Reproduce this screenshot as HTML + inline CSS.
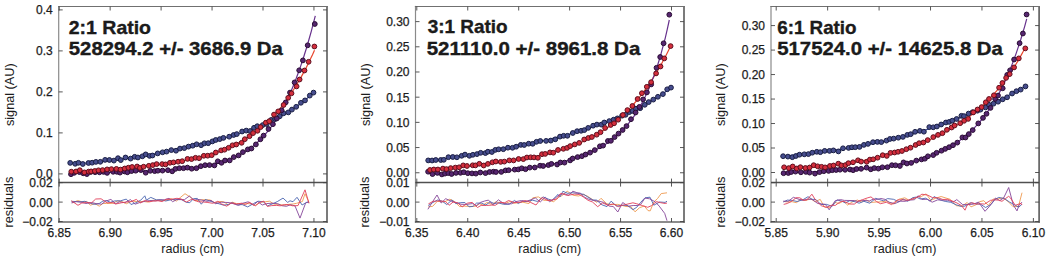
<!DOCTYPE html>
<html><head><meta charset="utf-8"><style>
html,body{margin:0;padding:0;background:#fff;}
body{width:1050px;height:256px;overflow:hidden;}
svg{display:block;}
text{font-family:"Liberation Sans",sans-serif;fill:#1c1c1c;}
.tl{stroke:#1c1c1c;stroke-width:0.25;}
</style></head><body>
<svg width="1050" height="256" viewBox="0 0 1050 256">
<line x1="58.70" y1="5.90" x2="58.70" y2="222.80" stroke="#8a8a8a" stroke-width="1.2"/>
<line x1="327.00" y1="5.90" x2="327.00" y2="222.80" stroke="#5a5a5a" stroke-width="1.6"/>
<line x1="58.10" y1="6.50" x2="327.80" y2="6.50" stroke="#707070" stroke-width="1.2"/>
<line x1="58.10" y1="222.00" x2="327.80" y2="222.00" stroke="#666" stroke-width="1.6"/>
<line x1="58.70" y1="182.60" x2="327.00" y2="182.60" stroke="#505050" stroke-width="1.5"/>
<line x1="59.20" y1="6.50" x2="59.20" y2="10.50" stroke="#454545" stroke-width="0.9"/>
<line x1="59.20" y1="178.60" x2="59.20" y2="186.60" stroke="#454545" stroke-width="0.9"/>
<line x1="59.20" y1="218.00" x2="59.20" y2="222.00" stroke="#454545" stroke-width="0.9"/>
<text x="59.20" y="237.30" font-size="12" text-anchor="middle" class="tl">6.85</text>
<line x1="110.15" y1="6.50" x2="110.15" y2="10.50" stroke="#454545" stroke-width="0.9"/>
<line x1="110.15" y1="178.60" x2="110.15" y2="186.60" stroke="#454545" stroke-width="0.9"/>
<line x1="110.15" y1="218.00" x2="110.15" y2="222.00" stroke="#454545" stroke-width="0.9"/>
<text x="110.15" y="237.30" font-size="12" text-anchor="middle" class="tl">6.90</text>
<line x1="161.10" y1="6.50" x2="161.10" y2="10.50" stroke="#454545" stroke-width="0.9"/>
<line x1="161.10" y1="178.60" x2="161.10" y2="186.60" stroke="#454545" stroke-width="0.9"/>
<line x1="161.10" y1="218.00" x2="161.10" y2="222.00" stroke="#454545" stroke-width="0.9"/>
<text x="161.10" y="237.30" font-size="12" text-anchor="middle" class="tl">6.95</text>
<line x1="212.05" y1="6.50" x2="212.05" y2="10.50" stroke="#454545" stroke-width="0.9"/>
<line x1="212.05" y1="178.60" x2="212.05" y2="186.60" stroke="#454545" stroke-width="0.9"/>
<line x1="212.05" y1="218.00" x2="212.05" y2="222.00" stroke="#454545" stroke-width="0.9"/>
<text x="212.05" y="237.30" font-size="12" text-anchor="middle" class="tl">7.00</text>
<line x1="263.00" y1="6.50" x2="263.00" y2="10.50" stroke="#454545" stroke-width="0.9"/>
<line x1="263.00" y1="178.60" x2="263.00" y2="186.60" stroke="#454545" stroke-width="0.9"/>
<line x1="263.00" y1="218.00" x2="263.00" y2="222.00" stroke="#454545" stroke-width="0.9"/>
<text x="263.00" y="237.30" font-size="12" text-anchor="middle" class="tl">7.05</text>
<line x1="313.95" y1="6.50" x2="313.95" y2="10.50" stroke="#454545" stroke-width="0.9"/>
<line x1="313.95" y1="178.60" x2="313.95" y2="186.60" stroke="#454545" stroke-width="0.9"/>
<line x1="313.95" y1="218.00" x2="313.95" y2="222.00" stroke="#454545" stroke-width="0.9"/>
<text x="313.95" y="237.30" font-size="12" text-anchor="middle" class="tl">7.10</text>
<line x1="58.70" y1="173.90" x2="62.70" y2="173.90" stroke="#454545" stroke-width="0.9"/>
<line x1="323.00" y1="173.90" x2="327.00" y2="173.90" stroke="#454545" stroke-width="0.9"/>
<text x="52.70" y="178.30" font-size="12" text-anchor="end" class="tl">0.0</text>
<line x1="58.70" y1="132.90" x2="62.70" y2="132.90" stroke="#454545" stroke-width="0.9"/>
<line x1="323.00" y1="132.90" x2="327.00" y2="132.90" stroke="#454545" stroke-width="0.9"/>
<text x="52.70" y="137.30" font-size="12" text-anchor="end" class="tl">0.1</text>
<line x1="58.70" y1="91.90" x2="62.70" y2="91.90" stroke="#454545" stroke-width="0.9"/>
<line x1="323.00" y1="91.90" x2="327.00" y2="91.90" stroke="#454545" stroke-width="0.9"/>
<text x="52.70" y="96.30" font-size="12" text-anchor="end" class="tl">0.2</text>
<line x1="58.70" y1="50.90" x2="62.70" y2="50.90" stroke="#454545" stroke-width="0.9"/>
<line x1="323.00" y1="50.90" x2="327.00" y2="50.90" stroke="#454545" stroke-width="0.9"/>
<text x="52.70" y="55.30" font-size="12" text-anchor="end" class="tl">0.3</text>
<line x1="58.70" y1="9.90" x2="62.70" y2="9.90" stroke="#454545" stroke-width="0.9"/>
<line x1="323.00" y1="9.90" x2="327.00" y2="9.90" stroke="#454545" stroke-width="0.9"/>
<text x="52.70" y="14.30" font-size="12" text-anchor="end" class="tl">0.4</text>
<line x1="58.70" y1="221.54" x2="62.70" y2="221.54" stroke="#454545" stroke-width="0.9"/>
<line x1="323.00" y1="221.54" x2="327.00" y2="221.54" stroke="#454545" stroke-width="0.9"/>
<text x="52.70" y="225.94" font-size="12" text-anchor="end" class="tl">−0.02</text>
<line x1="58.70" y1="202.10" x2="62.70" y2="202.10" stroke="#454545" stroke-width="0.9"/>
<line x1="323.00" y1="202.10" x2="327.00" y2="202.10" stroke="#454545" stroke-width="0.9"/>
<text x="52.70" y="206.50" font-size="12" text-anchor="end" class="tl">0.00</text>
<line x1="58.70" y1="182.66" x2="62.70" y2="182.66" stroke="#454545" stroke-width="0.9"/>
<line x1="323.00" y1="182.66" x2="327.00" y2="182.66" stroke="#454545" stroke-width="0.9"/>
<text x="52.70" y="187.06" font-size="12" text-anchor="end" class="tl">0.02</text>
<text x="192.85" y="253.00" font-size="12.6" text-anchor="middle" >radius (cm)</text>
<text x="0.00" y="0.00" font-size="12.7" text-anchor="middle" transform="translate(13.6,94.7) rotate(-90)">signal (AU)</text>
<text x="0.00" y="0.00" font-size="12.7" text-anchor="middle" transform="translate(12.9,202.1) rotate(-90)">residuals</text>
<text x="68.8" y="33.8" font-size="18.6" font-weight="bold" textLength="82.2" lengthAdjust="spacingAndGlyphs" fill="#111" stroke="#111" stroke-width="0.35">2:1 Ratio</text>
<text x="68.8" y="55.3" font-size="18.6" font-weight="bold" textLength="214.0" lengthAdjust="spacingAndGlyphs" fill="#111" stroke="#111" stroke-width="0.35">528294.2 +/- 3686.9 Da</text>
<line x1="415.50" y1="5.90" x2="415.50" y2="222.80" stroke="#8a8a8a" stroke-width="1.2"/>
<line x1="684.00" y1="5.90" x2="684.00" y2="222.80" stroke="#5a5a5a" stroke-width="1.6"/>
<line x1="414.90" y1="6.50" x2="684.80" y2="6.50" stroke="#707070" stroke-width="1.2"/>
<line x1="414.90" y1="222.00" x2="684.80" y2="222.00" stroke="#666" stroke-width="1.6"/>
<line x1="415.50" y1="182.60" x2="684.00" y2="182.60" stroke="#505050" stroke-width="1.5"/>
<line x1="416.80" y1="6.50" x2="416.80" y2="10.50" stroke="#454545" stroke-width="0.9"/>
<line x1="416.80" y1="178.60" x2="416.80" y2="186.60" stroke="#454545" stroke-width="0.9"/>
<line x1="416.80" y1="218.00" x2="416.80" y2="222.00" stroke="#454545" stroke-width="0.9"/>
<text x="416.80" y="237.30" font-size="12" text-anchor="middle" class="tl">6.35</text>
<line x1="467.74" y1="6.50" x2="467.74" y2="10.50" stroke="#454545" stroke-width="0.9"/>
<line x1="467.74" y1="178.60" x2="467.74" y2="186.60" stroke="#454545" stroke-width="0.9"/>
<line x1="467.74" y1="218.00" x2="467.74" y2="222.00" stroke="#454545" stroke-width="0.9"/>
<text x="467.74" y="237.30" font-size="12" text-anchor="middle" class="tl">6.40</text>
<line x1="518.68" y1="6.50" x2="518.68" y2="10.50" stroke="#454545" stroke-width="0.9"/>
<line x1="518.68" y1="178.60" x2="518.68" y2="186.60" stroke="#454545" stroke-width="0.9"/>
<line x1="518.68" y1="218.00" x2="518.68" y2="222.00" stroke="#454545" stroke-width="0.9"/>
<text x="518.68" y="237.30" font-size="12" text-anchor="middle" class="tl">6.45</text>
<line x1="569.62" y1="6.50" x2="569.62" y2="10.50" stroke="#454545" stroke-width="0.9"/>
<line x1="569.62" y1="178.60" x2="569.62" y2="186.60" stroke="#454545" stroke-width="0.9"/>
<line x1="569.62" y1="218.00" x2="569.62" y2="222.00" stroke="#454545" stroke-width="0.9"/>
<text x="569.62" y="237.30" font-size="12" text-anchor="middle" class="tl">6.50</text>
<line x1="620.56" y1="6.50" x2="620.56" y2="10.50" stroke="#454545" stroke-width="0.9"/>
<line x1="620.56" y1="178.60" x2="620.56" y2="186.60" stroke="#454545" stroke-width="0.9"/>
<line x1="620.56" y1="218.00" x2="620.56" y2="222.00" stroke="#454545" stroke-width="0.9"/>
<text x="620.56" y="237.30" font-size="12" text-anchor="middle" class="tl">6.55</text>
<line x1="671.50" y1="6.50" x2="671.50" y2="10.50" stroke="#454545" stroke-width="0.9"/>
<line x1="671.50" y1="178.60" x2="671.50" y2="186.60" stroke="#454545" stroke-width="0.9"/>
<line x1="671.50" y1="218.00" x2="671.50" y2="222.00" stroke="#454545" stroke-width="0.9"/>
<text x="671.50" y="237.30" font-size="12" text-anchor="middle" class="tl">6.60</text>
<line x1="415.50" y1="172.75" x2="419.50" y2="172.75" stroke="#454545" stroke-width="0.9"/>
<line x1="680.00" y1="172.75" x2="684.00" y2="172.75" stroke="#454545" stroke-width="0.9"/>
<text x="409.50" y="177.15" font-size="12" text-anchor="end" class="tl">0.00</text>
<line x1="415.50" y1="147.56" x2="419.50" y2="147.56" stroke="#454545" stroke-width="0.9"/>
<line x1="680.00" y1="147.56" x2="684.00" y2="147.56" stroke="#454545" stroke-width="0.9"/>
<text x="409.50" y="151.96" font-size="12" text-anchor="end" class="tl">0.05</text>
<line x1="415.50" y1="122.37" x2="419.50" y2="122.37" stroke="#454545" stroke-width="0.9"/>
<line x1="680.00" y1="122.37" x2="684.00" y2="122.37" stroke="#454545" stroke-width="0.9"/>
<text x="409.50" y="126.77" font-size="12" text-anchor="end" class="tl">0.10</text>
<line x1="415.50" y1="97.18" x2="419.50" y2="97.18" stroke="#454545" stroke-width="0.9"/>
<line x1="680.00" y1="97.18" x2="684.00" y2="97.18" stroke="#454545" stroke-width="0.9"/>
<text x="409.50" y="101.58" font-size="12" text-anchor="end" class="tl">0.15</text>
<line x1="415.50" y1="71.99" x2="419.50" y2="71.99" stroke="#454545" stroke-width="0.9"/>
<line x1="680.00" y1="71.99" x2="684.00" y2="71.99" stroke="#454545" stroke-width="0.9"/>
<text x="409.50" y="76.39" font-size="12" text-anchor="end" class="tl">0.20</text>
<line x1="415.50" y1="46.80" x2="419.50" y2="46.80" stroke="#454545" stroke-width="0.9"/>
<line x1="680.00" y1="46.80" x2="684.00" y2="46.80" stroke="#454545" stroke-width="0.9"/>
<text x="409.50" y="51.20" font-size="12" text-anchor="end" class="tl">0.25</text>
<line x1="415.50" y1="21.61" x2="419.50" y2="21.61" stroke="#454545" stroke-width="0.9"/>
<line x1="680.00" y1="21.61" x2="684.00" y2="21.61" stroke="#454545" stroke-width="0.9"/>
<text x="409.50" y="26.01" font-size="12" text-anchor="end" class="tl">0.30</text>
<line x1="415.50" y1="221.54" x2="419.50" y2="221.54" stroke="#454545" stroke-width="0.9"/>
<line x1="680.00" y1="221.54" x2="684.00" y2="221.54" stroke="#454545" stroke-width="0.9"/>
<text x="409.50" y="225.94" font-size="12" text-anchor="end" class="tl">−0.01</text>
<line x1="415.50" y1="202.10" x2="419.50" y2="202.10" stroke="#454545" stroke-width="0.9"/>
<line x1="680.00" y1="202.10" x2="684.00" y2="202.10" stroke="#454545" stroke-width="0.9"/>
<text x="409.50" y="206.50" font-size="12" text-anchor="end" class="tl">0.00</text>
<line x1="415.50" y1="182.66" x2="419.50" y2="182.66" stroke="#454545" stroke-width="0.9"/>
<line x1="680.00" y1="182.66" x2="684.00" y2="182.66" stroke="#454545" stroke-width="0.9"/>
<text x="409.50" y="187.06" font-size="12" text-anchor="end" class="tl">0.01</text>
<text x="549.75" y="253.00" font-size="12.6" text-anchor="middle" >radius (cm)</text>
<text x="0.00" y="0.00" font-size="12.7" text-anchor="middle" transform="translate(369.8,94.7) rotate(-90)">signal (AU)</text>
<text x="0.00" y="0.00" font-size="12.7" text-anchor="middle" transform="translate(369.3,202.1) rotate(-90)">residuals</text>
<text x="427.7" y="33.2" font-size="18.6" font-weight="bold" textLength="79.9" lengthAdjust="spacingAndGlyphs" fill="#111" stroke="#111" stroke-width="0.35">3:1 Ratio</text>
<text x="426.7" y="55.0" font-size="18.6" font-weight="bold" textLength="213.6" lengthAdjust="spacingAndGlyphs" fill="#111" stroke="#111" stroke-width="0.35">521110.0 +/- 8961.8 Da</text>
<line x1="771.00" y1="5.90" x2="771.00" y2="222.80" stroke="#8a8a8a" stroke-width="1.2"/>
<line x1="1039.10" y1="5.90" x2="1039.10" y2="222.80" stroke="#5a5a5a" stroke-width="1.6"/>
<line x1="770.40" y1="6.50" x2="1039.90" y2="6.50" stroke="#707070" stroke-width="1.2"/>
<line x1="770.40" y1="222.00" x2="1039.90" y2="222.00" stroke="#666" stroke-width="1.6"/>
<line x1="771.00" y1="182.60" x2="1039.10" y2="182.60" stroke="#505050" stroke-width="1.5"/>
<line x1="776.20" y1="6.50" x2="776.20" y2="10.50" stroke="#454545" stroke-width="0.9"/>
<line x1="776.20" y1="178.60" x2="776.20" y2="186.60" stroke="#454545" stroke-width="0.9"/>
<line x1="776.20" y1="218.00" x2="776.20" y2="222.00" stroke="#454545" stroke-width="0.9"/>
<text x="776.20" y="237.30" font-size="12" text-anchor="middle" class="tl">5.85</text>
<line x1="827.64" y1="6.50" x2="827.64" y2="10.50" stroke="#454545" stroke-width="0.9"/>
<line x1="827.64" y1="178.60" x2="827.64" y2="186.60" stroke="#454545" stroke-width="0.9"/>
<line x1="827.64" y1="218.00" x2="827.64" y2="222.00" stroke="#454545" stroke-width="0.9"/>
<text x="827.64" y="237.30" font-size="12" text-anchor="middle" class="tl">5.90</text>
<line x1="879.08" y1="6.50" x2="879.08" y2="10.50" stroke="#454545" stroke-width="0.9"/>
<line x1="879.08" y1="178.60" x2="879.08" y2="186.60" stroke="#454545" stroke-width="0.9"/>
<line x1="879.08" y1="218.00" x2="879.08" y2="222.00" stroke="#454545" stroke-width="0.9"/>
<text x="879.08" y="237.30" font-size="12" text-anchor="middle" class="tl">5.95</text>
<line x1="930.52" y1="6.50" x2="930.52" y2="10.50" stroke="#454545" stroke-width="0.9"/>
<line x1="930.52" y1="178.60" x2="930.52" y2="186.60" stroke="#454545" stroke-width="0.9"/>
<line x1="930.52" y1="218.00" x2="930.52" y2="222.00" stroke="#454545" stroke-width="0.9"/>
<text x="930.52" y="237.30" font-size="12" text-anchor="middle" class="tl">6.00</text>
<line x1="981.96" y1="6.50" x2="981.96" y2="10.50" stroke="#454545" stroke-width="0.9"/>
<line x1="981.96" y1="178.60" x2="981.96" y2="186.60" stroke="#454545" stroke-width="0.9"/>
<line x1="981.96" y1="218.00" x2="981.96" y2="222.00" stroke="#454545" stroke-width="0.9"/>
<text x="981.96" y="237.30" font-size="12" text-anchor="middle" class="tl">6.05</text>
<line x1="1033.40" y1="6.50" x2="1033.40" y2="10.50" stroke="#454545" stroke-width="0.9"/>
<line x1="1033.40" y1="178.60" x2="1033.40" y2="186.60" stroke="#454545" stroke-width="0.9"/>
<line x1="1033.40" y1="218.00" x2="1033.40" y2="222.00" stroke="#454545" stroke-width="0.9"/>
<text x="1033.40" y="237.30" font-size="12" text-anchor="middle" class="tl">6.10</text>
<line x1="771.00" y1="172.50" x2="775.00" y2="172.50" stroke="#454545" stroke-width="0.9"/>
<line x1="1035.10" y1="172.50" x2="1039.10" y2="172.50" stroke="#454545" stroke-width="0.9"/>
<text x="765.00" y="176.90" font-size="12" text-anchor="end" class="tl">0.00</text>
<line x1="771.00" y1="148.01" x2="775.00" y2="148.01" stroke="#454545" stroke-width="0.9"/>
<line x1="1035.10" y1="148.01" x2="1039.10" y2="148.01" stroke="#454545" stroke-width="0.9"/>
<text x="765.00" y="152.41" font-size="12" text-anchor="end" class="tl">0.05</text>
<line x1="771.00" y1="123.53" x2="775.00" y2="123.53" stroke="#454545" stroke-width="0.9"/>
<line x1="1035.10" y1="123.53" x2="1039.10" y2="123.53" stroke="#454545" stroke-width="0.9"/>
<text x="765.00" y="127.93" font-size="12" text-anchor="end" class="tl">0.10</text>
<line x1="771.00" y1="99.05" x2="775.00" y2="99.05" stroke="#454545" stroke-width="0.9"/>
<line x1="1035.10" y1="99.05" x2="1039.10" y2="99.05" stroke="#454545" stroke-width="0.9"/>
<text x="765.00" y="103.45" font-size="12" text-anchor="end" class="tl">0.15</text>
<line x1="771.00" y1="74.56" x2="775.00" y2="74.56" stroke="#454545" stroke-width="0.9"/>
<line x1="1035.10" y1="74.56" x2="1039.10" y2="74.56" stroke="#454545" stroke-width="0.9"/>
<text x="765.00" y="78.96" font-size="12" text-anchor="end" class="tl">0.20</text>
<line x1="771.00" y1="50.08" x2="775.00" y2="50.08" stroke="#454545" stroke-width="0.9"/>
<line x1="1035.10" y1="50.08" x2="1039.10" y2="50.08" stroke="#454545" stroke-width="0.9"/>
<text x="765.00" y="54.48" font-size="12" text-anchor="end" class="tl">0.25</text>
<line x1="771.00" y1="25.59" x2="775.00" y2="25.59" stroke="#454545" stroke-width="0.9"/>
<line x1="1035.10" y1="25.59" x2="1039.10" y2="25.59" stroke="#454545" stroke-width="0.9"/>
<text x="765.00" y="29.99" font-size="12" text-anchor="end" class="tl">0.30</text>
<line x1="771.00" y1="221.54" x2="775.00" y2="221.54" stroke="#454545" stroke-width="0.9"/>
<line x1="1035.10" y1="221.54" x2="1039.10" y2="221.54" stroke="#454545" stroke-width="0.9"/>
<text x="765.00" y="225.94" font-size="12" text-anchor="end" class="tl">−0.02</text>
<line x1="771.00" y1="202.10" x2="775.00" y2="202.10" stroke="#454545" stroke-width="0.9"/>
<line x1="1035.10" y1="202.10" x2="1039.10" y2="202.10" stroke="#454545" stroke-width="0.9"/>
<text x="765.00" y="206.50" font-size="12" text-anchor="end" class="tl">0.00</text>
<line x1="771.00" y1="182.66" x2="775.00" y2="182.66" stroke="#454545" stroke-width="0.9"/>
<line x1="1035.10" y1="182.66" x2="1039.10" y2="182.66" stroke="#454545" stroke-width="0.9"/>
<text x="765.00" y="187.06" font-size="12" text-anchor="end" class="tl">0.02</text>
<text x="905.05" y="253.00" font-size="12.6" text-anchor="middle" >radius (cm)</text>
<text x="0.00" y="0.00" font-size="12.7" text-anchor="middle" transform="translate(725.3,94.7) rotate(-90)">signal (AU)</text>
<text x="0.00" y="0.00" font-size="12.7" text-anchor="middle" transform="translate(725,202.0) rotate(-90)">residuals</text>
<text x="777.2" y="33.8" font-size="18.6" font-weight="bold" textLength="79.35" lengthAdjust="spacingAndGlyphs" fill="#111" stroke="#111" stroke-width="0.35">6:1 Ratio</text>
<text x="777.2" y="55.4" font-size="18.6" font-weight="bold" textLength="225.7" lengthAdjust="spacingAndGlyphs" fill="#111" stroke="#111" stroke-width="0.35">517524.0 +/- 14625.8 Da</text>
<defs><filter id="bl" x="-5%" y="-5%" width="110%" height="110%"><feGaussianBlur stdDeviation="0.35"/></filter></defs>
<g filter="url(#bl)">
<path d="M70.0,163.7 L72.1,163.7 L74.1,163.6 L76.2,163.6 L78.2,163.5 L80.3,163.4 L82.3,163.3 L84.4,163.2 L86.4,163.0 L88.5,162.9 L90.5,162.8 L92.6,162.6 L94.6,162.4 L96.7,162.2 L98.7,162.0 L100.8,161.8 L102.8,161.6 L104.9,161.4 L106.9,161.2 L109.0,160.9 L111.0,160.7 L113.1,160.4 L115.1,160.2 L117.2,159.9 L119.2,159.7 L121.3,159.4 L123.3,159.1 L125.4,158.8 L127.4,158.5 L129.5,158.2 L131.5,157.9 L133.6,157.6 L135.6,157.3 L137.7,156.9 L139.7,156.6 L141.8,156.3 L143.8,155.9 L145.9,155.6 L147.9,155.2 L150.0,154.9 L152.0,154.5 L154.1,154.1 L156.1,153.7 L158.2,153.4 L160.2,153.0 L162.3,152.6 L164.3,152.2 L166.4,151.8 L168.4,151.4 L170.5,151.0 L172.5,150.6 L174.6,150.2 L176.6,149.7 L178.7,149.3 L180.7,148.9 L182.8,148.4 L184.8,148.0 L186.9,147.5 L188.9,147.1 L191.0,146.6 L193.0,146.1 L195.1,145.7 L197.1,145.2 L199.2,144.7 L201.2,144.2 L203.3,143.7 L205.3,143.2 L207.4,142.7 L209.4,142.1 L211.5,141.6 L213.5,141.1 L215.6,140.5 L217.6,140.0 L219.7,139.4 L221.7,138.8 L223.8,138.3 L225.8,137.7 L227.9,137.1 L229.9,136.4 L232.0,135.8 L234.0,135.2 L236.1,134.5 L238.1,133.9 L240.2,133.2 L242.2,132.5 L244.3,131.8 L246.3,131.1 L248.4,130.4 L250.4,129.6 L252.5,128.9 L254.5,128.1 L256.6,127.3 L258.6,126.5 L260.7,125.7 L262.7,124.8 L264.8,123.9 L266.8,123.0 L268.9,122.1 L270.9,121.1 L273.0,120.2 L275.0,119.2 L277.1,118.1 L279.1,117.1 L281.2,116.0 L283.2,114.8 L285.3,113.7 L287.3,112.4 L289.4,111.2 L291.4,109.9 L293.5,108.6 L295.5,107.2 L297.6,105.8 L299.6,104.3 L301.7,102.7 L303.7,101.1 L305.8,99.5 L307.8,97.7 L309.9,96.0 L311.9,94.1 L314.0,92.1" fill="none" stroke="#3a4a9a" stroke-width="1.2"/>
<path d="M71.0,172.1 L73.0,172.0 L75.1,171.9 L77.1,171.7 L79.2,171.6 L81.2,171.4 L83.3,171.3 L85.3,171.1 L87.4,171.0 L89.4,170.9 L91.5,170.7 L93.5,170.6 L95.6,170.4 L97.6,170.3 L99.6,170.1 L101.7,170.0 L103.7,169.8 L105.8,169.6 L107.8,169.5 L109.9,169.3 L111.9,169.2 L114.0,169.0 L116.0,168.8 L118.1,168.7 L120.1,168.5 L122.2,168.3 L124.2,168.2 L126.2,168.0 L128.3,167.8 L130.3,167.6 L132.4,167.4 L134.4,167.2 L136.5,167.0 L138.5,166.8 L140.6,166.6 L142.6,166.4 L144.7,166.2 L146.7,166.0 L148.8,165.8 L150.8,165.6 L152.8,165.3 L154.9,165.1 L156.9,164.8 L159.0,164.6 L161.0,164.3 L163.1,164.1 L165.1,163.8 L167.2,163.5 L169.2,163.2 L171.3,162.9 L173.3,162.6 L175.4,162.3 L177.4,162.0 L179.4,161.6 L181.5,161.3 L183.5,160.9 L185.6,160.5 L187.6,160.1 L189.7,159.7 L191.7,159.3 L193.8,158.8 L195.8,158.4 L197.9,157.9 L199.9,157.4 L202.0,156.9 L204.0,156.3 L206.1,155.8 L208.1,155.2 L210.1,154.6 L212.2,153.9 L214.2,153.3 L216.3,152.6 L218.3,151.9 L220.4,151.1 L222.4,150.4 L224.5,149.5 L226.5,148.7 L228.6,147.8 L230.6,146.9 L232.7,146.0 L234.7,145.0 L236.7,143.9 L238.8,142.8 L240.8,141.7 L242.9,140.5 L244.9,139.3 L247.0,138.0 L249.0,136.7 L251.1,135.3 L253.1,133.9 L255.2,132.4 L257.2,130.8 L259.3,129.2 L261.3,127.5 L263.3,125.7 L265.4,123.9 L267.4,122.0 L269.5,120.0 L271.5,117.9 L273.6,115.8 L275.6,113.5 L277.7,111.2 L279.7,108.8 L281.8,106.3 L283.8,103.6 L285.9,100.9 L287.9,98.1 L289.9,95.2 L292.0,92.1 L294.0,89.0 L296.1,85.7 L298.1,82.3 L300.2,78.8 L302.2,75.1 L304.3,71.3 L306.3,67.4 L308.4,63.3 L310.4,59.1 L312.5,54.8 L314.5,50.2" fill="none" stroke="#e8452c" stroke-width="1.2"/>
<path d="M71.0,173.7 L73.1,173.7 L75.1,173.6 L77.2,173.5 L79.2,173.5 L81.3,173.4 L83.3,173.4 L85.4,173.3 L87.4,173.2 L89.5,173.2 L91.5,173.1 L93.6,173.0 L95.6,173.0 L97.7,172.9 L99.7,172.9 L101.8,172.8 L103.8,172.7 L105.9,172.7 L108.0,172.6 L110.0,172.5 L112.1,172.5 L114.1,172.4 L116.2,172.3 L118.2,172.3 L120.3,172.2 L122.3,172.1 L124.4,172.1 L126.4,172.0 L128.5,171.9 L130.5,171.8 L132.6,171.8 L134.6,171.7 L136.7,171.6 L138.7,171.5 L140.8,171.5 L142.9,171.4 L144.9,171.3 L147.0,171.2 L149.0,171.1 L151.1,171.0 L153.1,170.9 L155.2,170.8 L157.2,170.8 L159.3,170.6 L161.3,170.5 L163.4,170.4 L165.4,170.3 L167.5,170.2 L169.5,170.1 L171.6,169.9 L173.6,169.8 L175.7,169.6 L177.8,169.5 L179.8,169.3 L181.9,169.1 L183.9,169.0 L186.0,168.8 L188.0,168.6 L190.1,168.3 L192.1,168.1 L194.2,167.9 L196.2,167.6 L198.3,167.3 L200.3,167.0 L202.4,166.7 L204.4,166.3 L206.5,166.0 L208.5,165.6 L210.6,165.2 L212.7,164.7 L214.7,164.3 L216.8,163.7 L218.8,163.2 L220.9,162.6 L222.9,162.0 L225.0,161.3 L227.0,160.6 L229.1,159.9 L231.1,159.1 L233.2,158.2 L235.2,157.3 L237.3,156.3 L239.3,155.2 L241.4,154.1 L243.4,152.9 L245.5,151.6 L247.6,150.3 L249.6,148.8 L251.7,147.3 L253.7,145.6 L255.8,143.9 L257.8,142.0 L259.9,140.1 L261.9,138.0 L264.0,135.8 L266.0,133.4 L268.1,130.9 L270.1,128.3 L272.2,125.5 L274.2,122.5 L276.3,119.4 L278.3,116.1 L280.4,112.6 L282.5,108.9 L284.5,105.0 L286.6,100.9 L288.6,96.5 L290.7,92.0 L292.7,87.2 L294.8,82.1 L296.8,76.8 L298.9,71.2 L300.9,65.4 L303.0,59.3 L305.0,52.8 L307.1,46.1 L309.1,39.0 L311.2,31.6 L313.2,23.9 L315.3,15.8" fill="none" stroke="#66308c" stroke-width="1.2"/>
<path d="M428.5,161.1 L430.5,160.8 L432.6,160.6 L434.6,160.3 L436.7,160.0 L438.7,159.7 L440.7,159.4 L442.8,159.1 L444.8,158.8 L446.8,158.5 L448.9,158.2 L450.9,157.9 L453.0,157.6 L455.0,157.3 L457.0,157.0 L459.1,156.7 L461.1,156.4 L463.1,156.0 L465.2,155.7 L467.2,155.4 L469.3,155.1 L471.3,154.7 L473.3,154.4 L475.4,154.0 L477.4,153.7 L479.4,153.4 L481.5,153.0 L483.5,152.7 L485.6,152.3 L487.6,151.9 L489.6,151.6 L491.7,151.2 L493.7,150.8 L495.7,150.5 L497.8,150.1 L499.8,149.7 L501.9,149.3 L503.9,149.0 L505.9,148.6 L508.0,148.2 L510.0,147.8 L512.1,147.4 L514.1,147.0 L516.1,146.6 L518.2,146.1 L520.2,145.7 L522.2,145.3 L524.3,144.9 L526.3,144.5 L528.4,144.0 L530.4,143.6 L532.4,143.1 L534.5,142.7 L536.5,142.2 L538.5,141.8 L540.6,141.3 L542.6,140.8 L544.7,140.4 L546.7,139.9 L548.7,139.4 L550.8,138.9 L552.8,138.4 L554.8,137.9 L556.9,137.4 L558.9,136.9 L561.0,136.3 L563.0,135.8 L565.0,135.3 L567.1,134.7 L569.1,134.1 L571.1,133.6 L573.2,133.0 L575.2,132.4 L577.3,131.8 L579.3,131.2 L581.3,130.6 L583.4,130.0 L585.4,129.4 L587.4,128.7 L589.5,128.1 L591.5,127.4 L593.6,126.8 L595.6,126.1 L597.6,125.4 L599.7,124.7 L601.7,124.0 L603.8,123.2 L605.8,122.5 L607.8,121.7 L609.9,121.0 L611.9,120.2 L613.9,119.4 L616.0,118.5 L618.0,117.7 L620.1,116.9 L622.1,116.0 L624.1,115.1 L626.2,114.2 L628.2,113.3 L630.2,112.3 L632.3,111.3 L634.3,110.3 L636.4,109.3 L638.4,108.3 L640.4,107.2 L642.5,106.1 L644.5,105.0 L646.5,103.9 L648.6,102.7 L650.6,101.5 L652.7,100.3 L654.7,99.0 L656.7,97.7 L658.8,96.4 L660.8,95.0 L662.8,93.6 L664.9,92.2 L666.9,90.7 L669.0,89.2 L671.0,87.6" fill="none" stroke="#3a4a9a" stroke-width="1.2"/>
<path d="M430.0,169.8 L432.0,169.6 L434.0,169.4 L436.1,169.2 L438.1,169.0 L440.1,168.8 L442.1,168.6 L444.2,168.4 L446.2,168.2 L448.2,168.0 L450.2,167.8 L452.2,167.6 L454.3,167.4 L456.3,167.2 L458.3,167.0 L460.3,166.8 L462.3,166.6 L464.4,166.4 L466.4,166.2 L468.4,166.0 L470.4,165.8 L472.5,165.5 L474.5,165.3 L476.5,165.1 L478.5,164.9 L480.5,164.6 L482.6,164.4 L484.6,164.2 L486.6,163.9 L488.6,163.7 L490.7,163.4 L492.7,163.2 L494.7,162.9 L496.7,162.7 L498.7,162.4 L500.8,162.1 L502.8,161.9 L504.8,161.6 L506.8,161.3 L508.9,161.0 L510.9,160.7 L512.9,160.4 L514.9,160.1 L516.9,159.8 L519.0,159.4 L521.0,159.1 L523.0,158.7 L525.0,158.4 L527.0,158.0 L529.1,157.6 L531.1,157.3 L533.1,156.9 L535.1,156.5 L537.2,156.0 L539.2,155.6 L541.2,155.1 L543.2,154.7 L545.2,154.2 L547.3,153.7 L549.3,153.2 L551.3,152.7 L553.3,152.1 L555.4,151.6 L557.4,151.0 L559.4,150.4 L561.4,149.8 L563.4,149.1 L565.5,148.5 L567.5,147.8 L569.5,147.1 L571.5,146.4 L573.6,145.6 L575.6,144.8 L577.6,144.0 L579.6,143.1 L581.6,142.3 L583.7,141.3 L585.7,140.4 L587.7,139.4 L589.7,138.4 L591.7,137.3 L593.8,136.2 L595.8,135.1 L597.8,133.9 L599.8,132.7 L601.9,131.4 L603.9,130.1 L605.9,128.8 L607.9,127.4 L609.9,125.9 L612.0,124.4 L614.0,122.8 L616.0,121.2 L618.0,119.5 L620.1,117.7 L622.1,115.9 L624.1,114.0 L626.1,112.0 L628.1,110.0 L630.2,107.9 L632.2,105.7 L634.2,103.5 L636.2,101.1 L638.3,98.7 L640.3,96.2 L642.3,93.6 L644.3,90.9 L646.3,88.1 L648.4,85.2 L650.4,82.2 L652.4,79.1 L654.4,75.9 L656.4,72.6 L658.5,69.2 L660.5,65.7 L662.5,62.0 L664.5,58.3 L666.6,54.3 L668.6,50.3 L670.6,46.1" fill="none" stroke="#e8452c" stroke-width="1.2"/>
<path d="M428.5,173.4 L430.5,173.5 L432.5,173.6 L434.6,173.6 L436.6,173.7 L438.6,173.7 L440.6,173.7 L442.7,173.7 L444.7,173.7 L446.7,173.7 L448.7,173.7 L450.8,173.7 L452.8,173.7 L454.8,173.6 L456.8,173.6 L458.9,173.5 L460.9,173.5 L462.9,173.4 L464.9,173.4 L466.9,173.3 L469.0,173.2 L471.0,173.1 L473.0,173.0 L475.0,172.9 L477.1,172.8 L479.1,172.7 L481.1,172.6 L483.1,172.5 L485.2,172.3 L487.2,172.2 L489.2,172.0 L491.2,171.9 L493.3,171.7 L495.3,171.6 L497.3,171.4 L499.3,171.3 L501.3,171.1 L503.4,170.9 L505.4,170.7 L507.4,170.5 L509.4,170.3 L511.5,170.1 L513.5,169.9 L515.5,169.7 L517.5,169.4 L519.6,169.2 L521.6,168.9 L523.6,168.7 L525.6,168.4 L527.7,168.2 L529.7,167.9 L531.7,167.6 L533.7,167.3 L535.7,167.0 L537.8,166.7 L539.8,166.3 L541.8,166.0 L543.8,165.7 L545.9,165.3 L547.9,164.9 L549.9,164.5 L551.9,164.1 L554.0,163.7 L556.0,163.3 L558.0,162.8 L560.0,162.3 L562.1,161.9 L564.1,161.4 L566.1,160.8 L568.1,160.3 L570.1,159.7 L572.2,159.1 L574.2,158.5 L576.2,157.9 L578.2,157.2 L580.3,156.5 L582.3,155.7 L584.3,155.0 L586.3,154.2 L588.4,153.3 L590.4,152.4 L592.4,151.5 L594.4,150.5 L596.5,149.5 L598.5,148.4 L600.5,147.3 L602.5,146.1 L604.5,144.9 L606.6,143.6 L608.6,142.2 L610.6,140.7 L612.6,139.2 L614.7,137.5 L616.7,135.8 L618.7,134.0 L620.7,132.1 L622.8,130.0 L624.8,127.9 L626.8,125.6 L628.8,123.1 L630.9,120.5 L632.9,117.8 L634.9,114.9 L636.9,111.7 L638.9,108.4 L641.0,104.9 L643.0,101.1 L645.0,97.1 L647.0,92.8 L649.1,88.2 L651.1,83.3 L653.1,78.1 L655.1,72.5 L657.2,66.5 L659.2,60.0 L661.2,53.1 L663.2,45.7 L665.3,37.8 L667.3,29.2 L669.3,20.0" fill="none" stroke="#66308c" stroke-width="1.2"/>
<path d="M783.5,156.2 L785.5,156.0 L787.6,155.8 L789.6,155.6 L791.6,155.4 L793.7,155.2 L795.7,155.0 L797.7,154.8 L799.8,154.6 L801.8,154.4 L803.8,154.1 L805.9,153.9 L807.9,153.7 L809.9,153.4 L812.0,153.2 L814.0,152.9 L816.0,152.7 L818.1,152.4 L820.1,152.2 L822.1,151.9 L824.2,151.6 L826.2,151.4 L828.2,151.1 L830.3,150.8 L832.3,150.5 L834.3,150.2 L836.4,149.9 L838.4,149.6 L840.4,149.3 L842.5,149.0 L844.5,148.7 L846.5,148.3 L848.6,148.0 L850.6,147.7 L852.6,147.3 L854.7,147.0 L856.7,146.6 L858.7,146.2 L860.8,145.9 L862.8,145.5 L864.8,145.1 L866.9,144.7 L868.9,144.3 L870.9,143.9 L873.0,143.5 L875.0,143.1 L877.0,142.6 L879.1,142.2 L881.1,141.8 L883.1,141.3 L885.2,140.8 L887.2,140.4 L889.2,139.9 L891.3,139.4 L893.3,138.9 L895.3,138.4 L897.4,137.9 L899.4,137.4 L901.4,136.9 L903.5,136.4 L905.5,135.8 L907.6,135.3 L909.6,134.7 L911.6,134.1 L913.7,133.6 L915.7,133.0 L917.7,132.4 L919.8,131.8 L921.8,131.1 L923.8,130.5 L925.9,129.9 L927.9,129.2 L929.9,128.6 L932.0,127.9 L934.0,127.3 L936.0,126.6 L938.1,125.9 L940.1,125.2 L942.1,124.5 L944.2,123.7 L946.2,123.0 L948.2,122.3 L950.3,121.5 L952.3,120.8 L954.3,120.0 L956.4,119.2 L958.4,118.4 L960.4,117.6 L962.5,116.8 L964.5,116.0 L966.5,115.1 L968.6,114.3 L970.6,113.4 L972.6,112.5 L974.7,111.7 L976.7,110.8 L978.7,109.9 L980.8,109.0 L982.8,108.0 L984.8,107.1 L986.9,106.2 L988.9,105.2 L990.9,104.3 L993.0,103.3 L995.0,102.3 L997.0,101.3 L999.1,100.3 L1001.1,99.3 L1003.1,98.3 L1005.2,97.2 L1007.2,96.2 L1009.2,95.1 L1011.3,94.1 L1013.3,93.0 L1015.3,91.9 L1017.4,90.8 L1019.4,89.7 L1021.4,88.6 L1023.5,87.5 L1025.5,86.4" fill="none" stroke="#3a4a9a" stroke-width="1.2"/>
<path d="M784.0,167.3 L786.0,167.4 L788.1,167.5 L790.1,167.6 L792.1,167.6 L794.1,167.7 L796.2,167.7 L798.2,167.7 L800.2,167.7 L802.2,167.6 L804.3,167.6 L806.3,167.5 L808.3,167.5 L810.4,167.4 L812.4,167.2 L814.4,167.1 L816.4,167.0 L818.5,166.8 L820.5,166.7 L822.5,166.5 L824.6,166.3 L826.6,166.1 L828.6,165.9 L830.6,165.7 L832.7,165.4 L834.7,165.2 L836.7,164.9 L838.7,164.7 L840.8,164.4 L842.8,164.1 L844.8,163.8 L846.9,163.5 L848.9,163.1 L850.9,162.8 L852.9,162.4 L855.0,162.1 L857.0,161.7 L859.0,161.3 L861.1,160.9 L863.1,160.5 L865.1,160.1 L867.1,159.7 L869.2,159.2 L871.2,158.8 L873.2,158.3 L875.2,157.8 L877.3,157.3 L879.3,156.8 L881.3,156.3 L883.4,155.8 L885.4,155.3 L887.4,154.7 L889.4,154.1 L891.5,153.6 L893.5,153.0 L895.5,152.4 L897.6,151.8 L899.6,151.1 L901.6,150.5 L903.6,149.8 L905.7,149.1 L907.7,148.4 L909.7,147.7 L911.7,147.0 L913.8,146.3 L915.8,145.5 L917.8,144.7 L919.9,143.9 L921.9,143.1 L923.9,142.3 L925.9,141.4 L928.0,140.5 L930.0,139.6 L932.0,138.7 L934.1,137.8 L936.1,136.8 L938.1,135.8 L940.1,134.8 L942.2,133.7 L944.2,132.7 L946.2,131.5 L948.2,130.4 L950.3,129.3 L952.3,128.1 L954.3,126.8 L956.4,125.6 L958.4,124.3 L960.4,122.9 L962.4,121.6 L964.5,120.2 L966.5,118.7 L968.5,117.2 L970.6,115.7 L972.6,114.1 L974.6,112.5 L976.6,110.8 L978.7,109.0 L980.7,107.2 L982.7,105.4 L984.7,103.5 L986.8,101.5 L988.8,99.5 L990.8,97.4 L992.9,95.2 L994.9,92.9 L996.9,90.6 L998.9,88.2 L1001.0,85.7 L1003.0,83.1 L1005.0,80.4 L1007.1,77.6 L1009.1,74.8 L1011.1,71.8 L1013.1,68.7 L1015.2,65.5 L1017.2,62.1 L1019.2,58.7 L1021.2,55.1 L1023.3,51.3 L1025.3,47.4" fill="none" stroke="#e8452c" stroke-width="1.2"/>
<path d="M784.0,172.6 L786.0,172.5 L788.1,172.5 L790.1,172.4 L792.2,172.4 L794.2,172.3 L796.2,172.3 L798.3,172.2 L800.3,172.1 L802.4,172.1 L804.4,172.0 L806.4,171.9 L808.5,171.9 L810.5,171.8 L812.6,171.7 L814.6,171.6 L816.6,171.6 L818.7,171.5 L820.7,171.4 L822.8,171.3 L824.8,171.2 L826.8,171.1 L828.9,171.0 L830.9,170.9 L832.9,170.8 L835.0,170.7 L837.0,170.6 L839.1,170.5 L841.1,170.4 L843.1,170.3 L845.2,170.1 L847.2,170.0 L849.3,169.9 L851.3,169.7 L853.3,169.6 L855.4,169.4 L857.4,169.3 L859.5,169.1 L861.5,168.9 L863.5,168.8 L865.6,168.6 L867.6,168.4 L869.7,168.2 L871.7,168.0 L873.7,167.8 L875.8,167.5 L877.8,167.3 L879.9,167.1 L881.9,166.8 L883.9,166.5 L886.0,166.3 L888.0,166.0 L890.1,165.7 L892.1,165.3 L894.1,165.0 L896.2,164.7 L898.2,164.3 L900.3,163.9 L902.3,163.5 L904.3,163.1 L906.4,162.7 L908.4,162.3 L910.4,161.8 L912.5,161.3 L914.5,160.8 L916.6,160.2 L918.6,159.7 L920.6,159.1 L922.7,158.5 L924.7,157.8 L926.8,157.2 L928.8,156.5 L930.8,155.7 L932.9,154.9 L934.9,154.1 L937.0,153.3 L939.0,152.4 L941.0,151.5 L943.1,150.5 L945.1,149.5 L947.2,148.4 L949.2,147.3 L951.2,146.1 L953.3,144.8 L955.3,143.5 L957.4,142.2 L959.4,140.8 L961.4,139.3 L963.5,137.7 L965.5,136.0 L967.6,134.3 L969.6,132.5 L971.6,130.6 L973.7,128.6 L975.7,126.4 L977.8,124.2 L979.8,121.9 L981.8,119.5 L983.9,116.9 L985.9,114.2 L987.9,111.4 L990.0,108.4 L992.0,105.3 L994.1,102.0 L996.1,98.5 L998.1,94.9 L1000.2,91.1 L1002.2,87.0 L1004.3,82.8 L1006.3,78.4 L1008.3,73.7 L1010.4,68.8 L1012.4,63.6 L1014.5,58.1 L1016.5,52.4 L1018.5,46.4 L1020.6,40.0 L1022.6,33.4 L1024.7,26.3 L1026.7,18.9" fill="none" stroke="#66308c" stroke-width="1.2"/>
<g fill="#464e8e" stroke="#181c42" stroke-width="1.0">
<circle cx="70.2" cy="162.9" r="2.4"/>
<circle cx="75.2" cy="163.8" r="2.4"/>
<circle cx="78.4" cy="162.8" r="2.4"/>
<circle cx="82.8" cy="164.0" r="2.4"/>
<circle cx="88.5" cy="163.0" r="2.4"/>
<circle cx="92.1" cy="162.7" r="2.4"/>
<circle cx="95.9" cy="161.9" r="2.4"/>
<circle cx="100.3" cy="161.8" r="2.4"/>
<circle cx="105.1" cy="159.9" r="2.4"/>
<circle cx="109.4" cy="160.0" r="2.4"/>
<circle cx="113.9" cy="160.6" r="2.4"/>
<circle cx="118.0" cy="158.2" r="2.4"/>
<circle cx="120.8" cy="160.1" r="2.4"/>
<circle cx="125.5" cy="157.5" r="2.4"/>
<circle cx="130.6" cy="158.6" r="2.4"/>
<circle cx="134.7" cy="156.8" r="2.4"/>
<circle cx="137.9" cy="157.5" r="2.4"/>
<circle cx="142.4" cy="156.3" r="2.4"/>
<circle cx="145.7" cy="154.4" r="2.4"/>
<circle cx="149.6" cy="155.9" r="2.4"/>
<circle cx="152.5" cy="155.5" r="2.4"/>
<circle cx="157.7" cy="153.4" r="2.4"/>
<circle cx="162.6" cy="152.3" r="2.4"/>
<circle cx="166.6" cy="151.6" r="2.4"/>
<circle cx="171.3" cy="150.1" r="2.4"/>
<circle cx="176.0" cy="150.7" r="2.4"/>
<circle cx="180.0" cy="148.6" r="2.4"/>
<circle cx="184.3" cy="148.1" r="2.4"/>
<circle cx="188.5" cy="146.6" r="2.4"/>
<circle cx="192.7" cy="145.7" r="2.4"/>
<circle cx="196.6" cy="144.3" r="2.4"/>
<circle cx="201.1" cy="145.2" r="2.4"/>
<circle cx="204.4" cy="143.3" r="2.4"/>
<circle cx="208.2" cy="143.2" r="2.4"/>
<circle cx="212.4" cy="141.4" r="2.4"/>
<circle cx="215.7" cy="140.0" r="2.4"/>
<circle cx="219.8" cy="139.1" r="2.4"/>
<circle cx="223.4" cy="137.9" r="2.4"/>
<circle cx="229.2" cy="136.7" r="2.4"/>
<circle cx="233.6" cy="135.0" r="2.4"/>
<circle cx="236.8" cy="134.1" r="2.4"/>
<circle cx="242.1" cy="131.5" r="2.4"/>
<circle cx="246.2" cy="130.6" r="2.4"/>
<circle cx="250.2" cy="131.0" r="2.4"/>
<circle cx="254.0" cy="127.8" r="2.4"/>
<circle cx="257.3" cy="126.2" r="2.4"/>
<circle cx="262.7" cy="125.1" r="2.4"/>
<circle cx="266.8" cy="124.1" r="2.4"/>
<circle cx="271.1" cy="120.0" r="2.4"/>
<circle cx="275.1" cy="119.0" r="2.4"/>
<circle cx="279.7" cy="116.3" r="2.4"/>
<circle cx="283.6" cy="113.3" r="2.4"/>
<circle cx="288.3" cy="112.4" r="2.4"/>
<circle cx="291.9" cy="109.6" r="2.4"/>
<circle cx="296.2" cy="106.8" r="2.4"/>
<circle cx="300.9" cy="102.8" r="2.4"/>
<circle cx="305.0" cy="100.4" r="2.4"/>
<circle cx="309.8" cy="95.6" r="2.4"/>
<circle cx="313.5" cy="92.6" r="2.4"/>
<circle cx="428.2" cy="160.4" r="2.4"/>
<circle cx="432.1" cy="160.5" r="2.4"/>
<circle cx="435.8" cy="160.0" r="2.4"/>
<circle cx="440.8" cy="160.0" r="2.4"/>
<circle cx="443.8" cy="159.8" r="2.4"/>
<circle cx="448.4" cy="157.2" r="2.4"/>
<circle cx="452.8" cy="157.0" r="2.4"/>
<circle cx="456.9" cy="157.3" r="2.4"/>
<circle cx="461.7" cy="155.8" r="2.4"/>
<circle cx="465.0" cy="154.6" r="2.4"/>
<circle cx="469.4" cy="155.8" r="2.4"/>
<circle cx="472.9" cy="154.8" r="2.4"/>
<circle cx="477.0" cy="154.1" r="2.4"/>
<circle cx="480.7" cy="152.8" r="2.4"/>
<circle cx="485.4" cy="153.1" r="2.4"/>
<circle cx="487.9" cy="151.7" r="2.4"/>
<circle cx="491.9" cy="152.0" r="2.4"/>
<circle cx="495.3" cy="149.9" r="2.4"/>
<circle cx="498.7" cy="149.3" r="2.4"/>
<circle cx="503.3" cy="149.2" r="2.4"/>
<circle cx="507.9" cy="147.7" r="2.4"/>
<circle cx="512.5" cy="147.8" r="2.4"/>
<circle cx="516.2" cy="146.7" r="2.4"/>
<circle cx="520.8" cy="144.9" r="2.4"/>
<circle cx="524.2" cy="145.0" r="2.4"/>
<circle cx="528.7" cy="143.7" r="2.4"/>
<circle cx="532.7" cy="143.8" r="2.4"/>
<circle cx="536.5" cy="141.8" r="2.4"/>
<circle cx="540.3" cy="141.0" r="2.4"/>
<circle cx="546.1" cy="140.9" r="2.4"/>
<circle cx="550.8" cy="140.6" r="2.4"/>
<circle cx="555.3" cy="139.3" r="2.4"/>
<circle cx="560.0" cy="136.6" r="2.4"/>
<circle cx="563.6" cy="135.8" r="2.4"/>
<circle cx="567.4" cy="135.8" r="2.4"/>
<circle cx="572.8" cy="133.0" r="2.4"/>
<circle cx="577.1" cy="131.2" r="2.4"/>
<circle cx="581.1" cy="130.8" r="2.4"/>
<circle cx="584.3" cy="130.1" r="2.4"/>
<circle cx="588.2" cy="127.9" r="2.4"/>
<circle cx="593.1" cy="125.7" r="2.4"/>
<circle cx="596.9" cy="124.6" r="2.4"/>
<circle cx="601.3" cy="124.6" r="2.4"/>
<circle cx="604.3" cy="122.5" r="2.4"/>
<circle cx="609.3" cy="121.1" r="2.4"/>
<circle cx="613.6" cy="119.7" r="2.4"/>
<circle cx="617.4" cy="118.4" r="2.4"/>
<circle cx="622.1" cy="115.7" r="2.4"/>
<circle cx="625.6" cy="114.8" r="2.4"/>
<circle cx="629.3" cy="112.1" r="2.4"/>
<circle cx="632.5" cy="110.9" r="2.4"/>
<circle cx="636.0" cy="108.7" r="2.4"/>
<circle cx="640.2" cy="108.2" r="2.4"/>
<circle cx="644.8" cy="104.8" r="2.4"/>
<circle cx="648.7" cy="102.1" r="2.4"/>
<circle cx="653.3" cy="99.6" r="2.4"/>
<circle cx="657.9" cy="96.8" r="2.4"/>
<circle cx="662.9" cy="94.1" r="2.4"/>
<circle cx="667.2" cy="89.3" r="2.4"/>
<circle cx="671.0" cy="87.6" r="2.4"/>
<circle cx="783.1" cy="156.2" r="2.4"/>
<circle cx="787.9" cy="156.6" r="2.4"/>
<circle cx="792.3" cy="157.2" r="2.4"/>
<circle cx="795.9" cy="156.0" r="2.4"/>
<circle cx="799.5" cy="154.7" r="2.4"/>
<circle cx="804.3" cy="154.3" r="2.4"/>
<circle cx="808.4" cy="154.1" r="2.4"/>
<circle cx="812.3" cy="152.7" r="2.4"/>
<circle cx="816.8" cy="151.8" r="2.4"/>
<circle cx="820.3" cy="152.2" r="2.4"/>
<circle cx="824.7" cy="150.9" r="2.4"/>
<circle cx="829.5" cy="150.9" r="2.4"/>
<circle cx="833.4" cy="150.4" r="2.4"/>
<circle cx="838.4" cy="151.4" r="2.4"/>
<circle cx="843.0" cy="148.3" r="2.4"/>
<circle cx="848.6" cy="147.9" r="2.4"/>
<circle cx="852.0" cy="147.3" r="2.4"/>
<circle cx="855.3" cy="147.2" r="2.4"/>
<circle cx="859.5" cy="146.9" r="2.4"/>
<circle cx="863.9" cy="144.9" r="2.4"/>
<circle cx="868.0" cy="143.9" r="2.4"/>
<circle cx="873.0" cy="142.2" r="2.4"/>
<circle cx="877.4" cy="141.9" r="2.4"/>
<circle cx="881.3" cy="142.1" r="2.4"/>
<circle cx="886.4" cy="140.6" r="2.4"/>
<circle cx="889.9" cy="139.0" r="2.4"/>
<circle cx="893.7" cy="138.6" r="2.4"/>
<circle cx="898.3" cy="137.7" r="2.4"/>
<circle cx="902.9" cy="136.9" r="2.4"/>
<circle cx="907.3" cy="134.9" r="2.4"/>
<circle cx="910.7" cy="134.2" r="2.4"/>
<circle cx="915.1" cy="131.8" r="2.4"/>
<circle cx="919.9" cy="130.9" r="2.4"/>
<circle cx="923.9" cy="131.7" r="2.4"/>
<circle cx="929.3" cy="127.1" r="2.4"/>
<circle cx="933.2" cy="127.3" r="2.4"/>
<circle cx="936.9" cy="126.5" r="2.4"/>
<circle cx="941.2" cy="124.5" r="2.4"/>
<circle cx="945.9" cy="122.5" r="2.4"/>
<circle cx="949.2" cy="121.9" r="2.4"/>
<circle cx="952.3" cy="120.7" r="2.4"/>
<circle cx="956.6" cy="119.0" r="2.4"/>
<circle cx="961.4" cy="115.8" r="2.4"/>
<circle cx="963.9" cy="116.1" r="2.4"/>
<circle cx="968.6" cy="113.6" r="2.4"/>
<circle cx="972.6" cy="112.2" r="2.4"/>
<circle cx="977.4" cy="110.7" r="2.4"/>
<circle cx="980.5" cy="109.6" r="2.4"/>
<circle cx="985.6" cy="107.4" r="2.4"/>
<circle cx="989.0" cy="104.8" r="2.4"/>
<circle cx="993.5" cy="103.7" r="2.4"/>
<circle cx="998.1" cy="101.7" r="2.4"/>
<circle cx="1002.7" cy="99.3" r="2.4"/>
<circle cx="1007.1" cy="97.3" r="2.4"/>
<circle cx="1012.1" cy="93.5" r="2.4"/>
<circle cx="1016.4" cy="91.2" r="2.4"/>
<circle cx="1020.7" cy="89.6" r="2.4"/>
<circle cx="1025.5" cy="86.4" r="2.4"/>
</g>
<g fill="#56276f" stroke="#280a32" stroke-width="1.0">
<circle cx="71.0" cy="174.2" r="2.4"/>
<circle cx="74.2" cy="172.8" r="2.4"/>
<circle cx="79.4" cy="172.1" r="2.4"/>
<circle cx="83.2" cy="173.3" r="2.4"/>
<circle cx="86.9" cy="174.1" r="2.4"/>
<circle cx="90.7" cy="172.0" r="2.4"/>
<circle cx="95.1" cy="172.2" r="2.4"/>
<circle cx="99.5" cy="172.3" r="2.4"/>
<circle cx="103.6" cy="171.9" r="2.4"/>
<circle cx="107.1" cy="172.9" r="2.4"/>
<circle cx="113.1" cy="171.8" r="2.4"/>
<circle cx="116.9" cy="171.8" r="2.4"/>
<circle cx="120.0" cy="172.6" r="2.4"/>
<circle cx="124.7" cy="171.5" r="2.4"/>
<circle cx="127.4" cy="172.3" r="2.4"/>
<circle cx="131.5" cy="171.1" r="2.4"/>
<circle cx="135.7" cy="170.7" r="2.4"/>
<circle cx="140.9" cy="170.1" r="2.4"/>
<circle cx="145.7" cy="172.7" r="2.4"/>
<circle cx="150.3" cy="170.8" r="2.4"/>
<circle cx="154.7" cy="171.1" r="2.4"/>
<circle cx="157.9" cy="170.7" r="2.4"/>
<circle cx="162.5" cy="170.6" r="2.4"/>
<circle cx="167.9" cy="170.2" r="2.4"/>
<circle cx="172.2" cy="171.3" r="2.4"/>
<circle cx="175.4" cy="168.9" r="2.4"/>
<circle cx="179.4" cy="168.2" r="2.4"/>
<circle cx="183.5" cy="168.2" r="2.4"/>
<circle cx="187.4" cy="167.6" r="2.4"/>
<circle cx="191.7" cy="168.7" r="2.4"/>
<circle cx="196.4" cy="168.2" r="2.4"/>
<circle cx="200.8" cy="166.2" r="2.4"/>
<circle cx="205.1" cy="165.2" r="2.4"/>
<circle cx="209.5" cy="165.1" r="2.4"/>
<circle cx="214.4" cy="165.4" r="2.4"/>
<circle cx="217.8" cy="161.3" r="2.4"/>
<circle cx="221.5" cy="162.8" r="2.4"/>
<circle cx="225.0" cy="160.5" r="2.4"/>
<circle cx="229.7" cy="160.4" r="2.4"/>
<circle cx="233.8" cy="157.1" r="2.4"/>
<circle cx="238.6" cy="155.4" r="2.4"/>
<circle cx="242.9" cy="152.1" r="2.4"/>
<circle cx="247.8" cy="149.4" r="2.4"/>
<circle cx="251.4" cy="148.5" r="2.4"/>
<circle cx="255.9" cy="144.4" r="2.4"/>
<circle cx="260.4" cy="139.3" r="2.4"/>
<circle cx="263.6" cy="135.6" r="2.4"/>
<circle cx="268.5" cy="129.0" r="2.4"/>
<circle cx="272.9" cy="124.2" r="2.4"/>
<circle cx="276.8" cy="118.5" r="2.4"/>
<circle cx="281.6" cy="110.3" r="2.4"/>
<circle cx="285.7" cy="102.4" r="2.4"/>
<circle cx="290.0" cy="92.6" r="2.4"/>
<circle cx="294.6" cy="82.4" r="2.4"/>
<circle cx="299.2" cy="70.3" r="2.4"/>
<circle cx="302.9" cy="60.4" r="2.4"/>
<circle cx="307.7" cy="45.3" r="2.4"/>
<circle cx="314.8" cy="24.0" r="2.4"/>
<circle cx="428.1" cy="171.7" r="2.4"/>
<circle cx="432.5" cy="174.1" r="2.4"/>
<circle cx="437.4" cy="172.9" r="2.4"/>
<circle cx="441.9" cy="174.4" r="2.4"/>
<circle cx="445.0" cy="173.6" r="2.4"/>
<circle cx="448.3" cy="173.1" r="2.4"/>
<circle cx="451.6" cy="174.0" r="2.4"/>
<circle cx="456.0" cy="172.9" r="2.4"/>
<circle cx="460.5" cy="172.8" r="2.4"/>
<circle cx="463.8" cy="172.2" r="2.4"/>
<circle cx="467.8" cy="173.2" r="2.4"/>
<circle cx="472.0" cy="173.4" r="2.4"/>
<circle cx="475.9" cy="173.6" r="2.4"/>
<circle cx="480.3" cy="172.5" r="2.4"/>
<circle cx="485.5" cy="173.1" r="2.4"/>
<circle cx="489.6" cy="172.0" r="2.4"/>
<circle cx="493.4" cy="171.7" r="2.4"/>
<circle cx="496.0" cy="172.0" r="2.4"/>
<circle cx="501.3" cy="171.9" r="2.4"/>
<circle cx="505.6" cy="170.4" r="2.4"/>
<circle cx="508.7" cy="170.2" r="2.4"/>
<circle cx="514.7" cy="169.6" r="2.4"/>
<circle cx="518.3" cy="169.4" r="2.4"/>
<circle cx="521.7" cy="168.3" r="2.4"/>
<circle cx="525.5" cy="169.2" r="2.4"/>
<circle cx="529.8" cy="167.6" r="2.4"/>
<circle cx="534.8" cy="167.5" r="2.4"/>
<circle cx="540.1" cy="165.7" r="2.4"/>
<circle cx="543.2" cy="166.0" r="2.4"/>
<circle cx="548.4" cy="165.1" r="2.4"/>
<circle cx="551.4" cy="163.9" r="2.4"/>
<circle cx="557.1" cy="164.5" r="2.4"/>
<circle cx="560.4" cy="162.5" r="2.4"/>
<circle cx="564.5" cy="162.6" r="2.4"/>
<circle cx="570.1" cy="160.4" r="2.4"/>
<circle cx="572.7" cy="158.5" r="2.4"/>
<circle cx="577.6" cy="157.1" r="2.4"/>
<circle cx="581.9" cy="156.2" r="2.4"/>
<circle cx="585.6" cy="154.5" r="2.4"/>
<circle cx="590.1" cy="152.6" r="2.4"/>
<circle cx="594.8" cy="150.1" r="2.4"/>
<circle cx="599.9" cy="146.3" r="2.4"/>
<circle cx="603.1" cy="145.6" r="2.4"/>
<circle cx="607.9" cy="141.0" r="2.4"/>
<circle cx="610.9" cy="140.8" r="2.4"/>
<circle cx="614.6" cy="137.1" r="2.4"/>
<circle cx="618.5" cy="133.6" r="2.4"/>
<circle cx="622.6" cy="130.0" r="2.4"/>
<circle cx="626.5" cy="126.1" r="2.4"/>
<circle cx="631.0" cy="119.2" r="2.4"/>
<circle cx="635.6" cy="112.5" r="2.4"/>
<circle cx="639.4" cy="106.9" r="2.4"/>
<circle cx="643.1" cy="99.4" r="2.4"/>
<circle cx="646.9" cy="92.4" r="2.4"/>
<circle cx="651.2" cy="84.4" r="2.4"/>
<circle cx="656.5" cy="67.8" r="2.4"/>
<circle cx="660.2" cy="57.0" r="2.4"/>
<circle cx="663.6" cy="43.3" r="2.4"/>
<circle cx="669.3" cy="14.7" r="2.4"/>
<circle cx="783.6" cy="173.2" r="2.4"/>
<circle cx="788.3" cy="173.0" r="2.4"/>
<circle cx="791.2" cy="172.0" r="2.4"/>
<circle cx="795.5" cy="171.6" r="2.4"/>
<circle cx="800.9" cy="172.3" r="2.4"/>
<circle cx="805.9" cy="171.9" r="2.4"/>
<circle cx="809.6" cy="172.6" r="2.4"/>
<circle cx="815.0" cy="173.6" r="2.4"/>
<circle cx="819.5" cy="172.1" r="2.4"/>
<circle cx="823.8" cy="171.2" r="2.4"/>
<circle cx="828.6" cy="170.9" r="2.4"/>
<circle cx="832.3" cy="170.2" r="2.4"/>
<circle cx="836.1" cy="170.0" r="2.4"/>
<circle cx="840.0" cy="169.7" r="2.4"/>
<circle cx="845.1" cy="169.8" r="2.4"/>
<circle cx="850.0" cy="169.5" r="2.4"/>
<circle cx="853.1" cy="170.2" r="2.4"/>
<circle cx="856.5" cy="169.0" r="2.4"/>
<circle cx="861.1" cy="168.8" r="2.4"/>
<circle cx="866.6" cy="167.6" r="2.4"/>
<circle cx="870.8" cy="169.3" r="2.4"/>
<circle cx="874.3" cy="168.1" r="2.4"/>
<circle cx="878.4" cy="168.6" r="2.4"/>
<circle cx="882.4" cy="167.3" r="2.4"/>
<circle cx="887.4" cy="167.2" r="2.4"/>
<circle cx="891.9" cy="165.2" r="2.4"/>
<circle cx="895.5" cy="165.3" r="2.4"/>
<circle cx="899.9" cy="166.0" r="2.4"/>
<circle cx="903.5" cy="162.4" r="2.4"/>
<circle cx="906.9" cy="163.5" r="2.4"/>
<circle cx="911.2" cy="162.9" r="2.4"/>
<circle cx="916.3" cy="160.6" r="2.4"/>
<circle cx="921.5" cy="159.4" r="2.4"/>
<circle cx="924.9" cy="158.7" r="2.4"/>
<circle cx="927.9" cy="156.3" r="2.4"/>
<circle cx="933.2" cy="155.1" r="2.4"/>
<circle cx="936.6" cy="152.8" r="2.4"/>
<circle cx="941.5" cy="150.7" r="2.4"/>
<circle cx="945.2" cy="148.9" r="2.4"/>
<circle cx="949.1" cy="147.2" r="2.4"/>
<circle cx="953.0" cy="145.2" r="2.4"/>
<circle cx="957.3" cy="142.6" r="2.4"/>
<circle cx="962.4" cy="137.4" r="2.4"/>
<circle cx="965.5" cy="137.5" r="2.4"/>
<circle cx="968.8" cy="134.1" r="2.4"/>
<circle cx="972.7" cy="130.1" r="2.4"/>
<circle cx="978.3" cy="123.4" r="2.4"/>
<circle cx="983.0" cy="117.9" r="2.4"/>
<circle cx="986.5" cy="113.8" r="2.4"/>
<circle cx="990.5" cy="107.9" r="2.4"/>
<circle cx="995.1" cy="98.9" r="2.4"/>
<circle cx="998.0" cy="95.6" r="2.4"/>
<circle cx="1002.7" cy="88.3" r="2.4"/>
<circle cx="1007.2" cy="74.9" r="2.4"/>
<circle cx="1010.1" cy="70.3" r="2.4"/>
<circle cx="1014.1" cy="59.5" r="2.4"/>
<circle cx="1019.6" cy="43.2" r="2.4"/>
<circle cx="1022.9" cy="33.5" r="2.4"/>
<circle cx="1026.6" cy="14.5" r="2.4"/>
</g>
<g fill="#d42e3c" stroke="#5e0e1c" stroke-width="1.0">
<circle cx="71.3" cy="171.7" r="2.4"/>
<circle cx="76.0" cy="171.5" r="2.4"/>
<circle cx="79.8" cy="170.2" r="2.4"/>
<circle cx="84.4" cy="172.4" r="2.4"/>
<circle cx="88.7" cy="171.6" r="2.4"/>
<circle cx="91.1" cy="171.4" r="2.4"/>
<circle cx="94.8" cy="171.0" r="2.4"/>
<circle cx="98.5" cy="170.3" r="2.4"/>
<circle cx="102.6" cy="170.1" r="2.4"/>
<circle cx="107.1" cy="169.4" r="2.4"/>
<circle cx="111.4" cy="169.1" r="2.4"/>
<circle cx="116.4" cy="168.9" r="2.4"/>
<circle cx="120.5" cy="169.6" r="2.4"/>
<circle cx="124.7" cy="168.5" r="2.4"/>
<circle cx="128.4" cy="167.7" r="2.4"/>
<circle cx="132.1" cy="167.0" r="2.4"/>
<circle cx="137.1" cy="166.5" r="2.4"/>
<circle cx="139.9" cy="167.9" r="2.4"/>
<circle cx="143.6" cy="166.7" r="2.4"/>
<circle cx="148.8" cy="165.8" r="2.4"/>
<circle cx="152.8" cy="165.1" r="2.4"/>
<circle cx="156.6" cy="164.1" r="2.4"/>
<circle cx="162.1" cy="164.1" r="2.4"/>
<circle cx="165.5" cy="164.4" r="2.4"/>
<circle cx="169.9" cy="162.8" r="2.4"/>
<circle cx="173.5" cy="162.4" r="2.4"/>
<circle cx="178.1" cy="161.7" r="2.4"/>
<circle cx="182.2" cy="161.2" r="2.4"/>
<circle cx="187.5" cy="158.9" r="2.4"/>
<circle cx="191.5" cy="159.1" r="2.4"/>
<circle cx="195.5" cy="157.8" r="2.4"/>
<circle cx="199.1" cy="158.2" r="2.4"/>
<circle cx="203.8" cy="155.8" r="2.4"/>
<circle cx="207.7" cy="155.7" r="2.4"/>
<circle cx="211.7" cy="155.2" r="2.4"/>
<circle cx="215.8" cy="152.5" r="2.4"/>
<circle cx="221.1" cy="150.4" r="2.4"/>
<circle cx="224.5" cy="149.7" r="2.4"/>
<circle cx="228.6" cy="147.8" r="2.4"/>
<circle cx="232.5" cy="145.3" r="2.4"/>
<circle cx="236.3" cy="144.5" r="2.4"/>
<circle cx="241.6" cy="142.8" r="2.4"/>
<circle cx="244.8" cy="139.2" r="2.4"/>
<circle cx="249.5" cy="136.2" r="2.4"/>
<circle cx="253.1" cy="133.1" r="2.4"/>
<circle cx="257.5" cy="130.8" r="2.4"/>
<circle cx="260.6" cy="127.1" r="2.4"/>
<circle cx="265.8" cy="122.7" r="2.4"/>
<circle cx="269.2" cy="121.2" r="2.4"/>
<circle cx="274.0" cy="114.6" r="2.4"/>
<circle cx="278.2" cy="111.4" r="2.4"/>
<circle cx="283.6" cy="105.0" r="2.4"/>
<circle cx="288.2" cy="97.8" r="2.4"/>
<circle cx="291.5" cy="93.3" r="2.4"/>
<circle cx="296.6" cy="86.4" r="2.4"/>
<circle cx="299.6" cy="79.5" r="2.4"/>
<circle cx="304.5" cy="70.5" r="2.4"/>
<circle cx="308.6" cy="61.8" r="2.4"/>
<circle cx="314.4" cy="46.5" r="2.4"/>
<circle cx="430.0" cy="170.0" r="2.4"/>
<circle cx="433.8" cy="169.5" r="2.4"/>
<circle cx="437.9" cy="169.5" r="2.4"/>
<circle cx="442.9" cy="168.6" r="2.4"/>
<circle cx="446.4" cy="169.1" r="2.4"/>
<circle cx="450.7" cy="168.1" r="2.4"/>
<circle cx="455.3" cy="167.6" r="2.4"/>
<circle cx="459.1" cy="167.3" r="2.4"/>
<circle cx="463.2" cy="165.4" r="2.4"/>
<circle cx="467.0" cy="166.0" r="2.4"/>
<circle cx="472.7" cy="165.3" r="2.4"/>
<circle cx="475.4" cy="165.4" r="2.4"/>
<circle cx="479.3" cy="163.8" r="2.4"/>
<circle cx="483.7" cy="165.5" r="2.4"/>
<circle cx="487.9" cy="163.9" r="2.4"/>
<circle cx="492.4" cy="162.3" r="2.4"/>
<circle cx="495.8" cy="161.5" r="2.4"/>
<circle cx="500.7" cy="161.9" r="2.4"/>
<circle cx="504.3" cy="161.6" r="2.4"/>
<circle cx="509.3" cy="160.4" r="2.4"/>
<circle cx="513.6" cy="160.4" r="2.4"/>
<circle cx="518.6" cy="159.0" r="2.4"/>
<circle cx="523.3" cy="159.1" r="2.4"/>
<circle cx="526.9" cy="157.5" r="2.4"/>
<circle cx="530.7" cy="157.3" r="2.4"/>
<circle cx="534.0" cy="157.4" r="2.4"/>
<circle cx="537.9" cy="157.8" r="2.4"/>
<circle cx="542.0" cy="154.2" r="2.4"/>
<circle cx="545.2" cy="153.9" r="2.4"/>
<circle cx="550.0" cy="152.4" r="2.4"/>
<circle cx="553.3" cy="152.7" r="2.4"/>
<circle cx="558.0" cy="150.0" r="2.4"/>
<circle cx="563.4" cy="148.8" r="2.4"/>
<circle cx="567.1" cy="147.9" r="2.4"/>
<circle cx="570.2" cy="146.1" r="2.4"/>
<circle cx="574.8" cy="144.4" r="2.4"/>
<circle cx="579.2" cy="142.9" r="2.4"/>
<circle cx="584.2" cy="139.5" r="2.4"/>
<circle cx="588.3" cy="138.0" r="2.4"/>
<circle cx="591.9" cy="137.0" r="2.4"/>
<circle cx="596.7" cy="134.7" r="2.4"/>
<circle cx="600.5" cy="132.2" r="2.4"/>
<circle cx="605.1" cy="128.0" r="2.4"/>
<circle cx="610.7" cy="125.0" r="2.4"/>
<circle cx="614.1" cy="123.3" r="2.4"/>
<circle cx="618.2" cy="119.7" r="2.4"/>
<circle cx="622.9" cy="115.0" r="2.4"/>
<circle cx="627.4" cy="110.1" r="2.4"/>
<circle cx="632.4" cy="106.0" r="2.4"/>
<circle cx="637.6" cy="99.0" r="2.4"/>
<circle cx="641.9" cy="93.2" r="2.4"/>
<circle cx="646.8" cy="86.8" r="2.4"/>
<circle cx="651.1" cy="82.2" r="2.4"/>
<circle cx="656.1" cy="73.4" r="2.4"/>
<circle cx="660.5" cy="66.5" r="2.4"/>
<circle cx="664.3" cy="58.4" r="2.4"/>
<circle cx="670.6" cy="46.1" r="2.4"/>
<circle cx="784.1" cy="167.3" r="2.4"/>
<circle cx="788.8" cy="168.1" r="2.4"/>
<circle cx="792.7" cy="166.5" r="2.4"/>
<circle cx="796.8" cy="168.5" r="2.4"/>
<circle cx="800.4" cy="167.2" r="2.4"/>
<circle cx="805.4" cy="168.0" r="2.4"/>
<circle cx="809.6" cy="167.5" r="2.4"/>
<circle cx="813.7" cy="165.2" r="2.4"/>
<circle cx="817.6" cy="166.3" r="2.4"/>
<circle cx="821.6" cy="166.8" r="2.4"/>
<circle cx="825.1" cy="167.4" r="2.4"/>
<circle cx="829.9" cy="166.0" r="2.4"/>
<circle cx="833.5" cy="165.5" r="2.4"/>
<circle cx="838.3" cy="163.7" r="2.4"/>
<circle cx="841.4" cy="165.4" r="2.4"/>
<circle cx="845.4" cy="165.1" r="2.4"/>
<circle cx="848.4" cy="163.2" r="2.4"/>
<circle cx="853.0" cy="162.3" r="2.4"/>
<circle cx="858.0" cy="160.3" r="2.4"/>
<circle cx="861.1" cy="161.6" r="2.4"/>
<circle cx="866.7" cy="161.8" r="2.4"/>
<circle cx="869.9" cy="159.6" r="2.4"/>
<circle cx="873.2" cy="159.3" r="2.4"/>
<circle cx="877.6" cy="157.7" r="2.4"/>
<circle cx="882.7" cy="155.2" r="2.4"/>
<circle cx="886.8" cy="155.9" r="2.4"/>
<circle cx="890.5" cy="152.9" r="2.4"/>
<circle cx="894.6" cy="152.5" r="2.4"/>
<circle cx="898.1" cy="151.8" r="2.4"/>
<circle cx="902.0" cy="151.0" r="2.4"/>
<circle cx="906.3" cy="149.2" r="2.4"/>
<circle cx="910.5" cy="147.7" r="2.4"/>
<circle cx="915.6" cy="145.0" r="2.4"/>
<circle cx="919.1" cy="143.2" r="2.4"/>
<circle cx="923.4" cy="142.5" r="2.4"/>
<circle cx="927.7" cy="140.1" r="2.4"/>
<circle cx="933.3" cy="137.1" r="2.4"/>
<circle cx="938.0" cy="134.9" r="2.4"/>
<circle cx="942.4" cy="133.2" r="2.4"/>
<circle cx="946.9" cy="129.8" r="2.4"/>
<circle cx="951.6" cy="127.5" r="2.4"/>
<circle cx="954.6" cy="125.5" r="2.4"/>
<circle cx="960.2" cy="123.2" r="2.4"/>
<circle cx="964.1" cy="120.8" r="2.4"/>
<circle cx="968.2" cy="118.9" r="2.4"/>
<circle cx="973.3" cy="112.4" r="2.4"/>
<circle cx="977.5" cy="109.5" r="2.4"/>
<circle cx="981.6" cy="107.1" r="2.4"/>
<circle cx="985.8" cy="102.3" r="2.4"/>
<circle cx="989.0" cy="99.0" r="2.4"/>
<circle cx="993.9" cy="95.3" r="2.4"/>
<circle cx="999.1" cy="87.7" r="2.4"/>
<circle cx="1002.4" cy="83.0" r="2.4"/>
<circle cx="1006.1" cy="77.9" r="2.4"/>
<circle cx="1009.7" cy="74.1" r="2.4"/>
<circle cx="1014.1" cy="67.4" r="2.4"/>
<circle cx="1018.8" cy="58.4" r="2.4"/>
<circle cx="1025.3" cy="48.4" r="2.4"/>
</g>
<path d="M72.2,202.9 L77.7,200.5 L82.5,202.0 L86.7,201.5 L90.4,205.2 L94.8,203.6 L99.3,206.2 L103.0,203.4 L106.6,203.5 L112.6,203.3 L117.7,200.9 L121.8,201.6 L126.4,203.7 L132.3,201.0 L138.1,201.8 L143.7,201.5 L148.2,202.1 L152.9,200.3 L158.1,200.2 L161.7,200.6 L166.6,200.2 L170.8,198.6 L176.5,201.0 L180.2,197.6 L185.0,193.7 L191.0,197.6 L195.1,201.0 L200.8,199.8 L206.5,199.7 L210.1,200.0 L215.3,203.1 L218.8,201.4 L223.6,201.7 L228.2,204.8 L232.2,202.2 L236.5,203.6 L242.0,204.2 L246.3,203.5 L250.2,203.8 L255.4,205.4 L260.1,202.2 L265.6,201.7 L269.6,201.2 L273.9,204.1 L279.4,204.4 L284.2,205.4 L289.0,204.3 L293.1,204.0 L296.6,203.3 L302.4,201.5 L305.0,193.7 L309.0,202.4" fill="none" stroke="#ee9a50" stroke-width="0.9" stroke-linejoin="miter"/>
<path d="M71.4,201.3 L76.1,201.6 L81.0,201.8 L84.8,201.3 L90.4,203.3 L94.6,204.4 L99.2,203.5 L102.9,201.1 L106.4,200.6 L110.4,202.3 L114.7,200.9 L120.6,200.8 L126.3,199.1 L131.0,204.5 L135.6,202.9 L140.8,200.1 L144.8,195.8 L146.4,200.1 L150.8,197.4 L156.3,199.8 L160.8,199.7 L165.7,201.0 L171.1,199.7 L175.8,199.3 L181.1,199.4 L186.3,202.3 L189.8,202.7 L193.4,198.7 L197.3,198.4 L201.3,204.2 L205.3,199.5 L209.0,200.7 L213.0,202.2 L218.0,203.5 L223.7,205.2 L228.1,204.5 L232.5,202.7 L237.0,204.9 L242.2,204.6 L247.7,206.9 L253.6,203.5 L258.0,201.2 L263.3,201.8 L267.6,205.9 L273.2,203.5 L277.3,201.6 L283.0,198.1 L287.7,202.4 L290.0,200.8 L293.0,201.7 L297.0,197.3 L302.1,205.0 L306.9,202.2 L309.0,202.7" fill="none" stroke="#4a64b0" stroke-width="0.9" stroke-linejoin="miter"/>
<path d="M71.4,202.9 L76.4,201.6 L82.2,202.4 L86.0,203.5 L91.6,202.5 L96.1,203.6 L101.5,204.2 L105.8,201.1 L110.9,199.4 L115.7,203.7 L119.4,201.8 L124.8,202.7 L130.4,199.6 L135.1,204.2 L139.6,202.6 L145.4,201.2 L149.9,200.5 L155.6,200.8 L160.1,200.0 L164.5,199.7 L169.0,198.3 L172.6,201.7 L176.8,199.6 L180.9,199.6 L184.5,199.6 L189.4,196.0 L194.0,200.3 L197.5,199.4 L201.4,200.0 L207.2,201.4 L211.1,200.4 L215.5,203.7 L221.4,202.2 L225.2,202.4 L229.7,202.6 L235.2,204.3 L238.7,205.3 L242.4,203.3 L248.2,201.8 L253.4,205.2 L257.6,201.6 L262.3,205.0 L266.4,203.6 L272.1,203.2 L278.0,203.8 L281.7,205.7 L286.5,206.3 L290.5,204.7 L295.0,205.9 L300.0,218.1 L305.6,203.1 L309.0,201.3" fill="none" stroke="#86469a" stroke-width="0.9" stroke-linejoin="miter"/>
<path d="M71.3,200.7 L78.0,205.3 L81.7,203.1 L86.6,202.5 L91.5,202.9 L95.7,199.0 L101.1,198.8 L107.0,202.8 L112.0,202.5 L115.7,204.0 L121.3,202.8 L126.4,202.0 L131.2,201.6 L136.3,199.4 L140.4,202.9 L144.7,200.5 L149.5,201.8 L153.2,201.1 L158.1,200.8 L162.1,201.6 L166.2,199.3 L172.0,199.2 L176.9,198.3 L181.0,198.9 L186.3,202.0 L192.3,199.0 L198.0,201.7 L203.5,202.0 L207.9,202.5 L212.8,203.3 L217.8,201.3 L221.5,203.9 L226.7,206.2 L231.5,202.9 L236.3,204.0 L241.7,203.2 L245.4,204.7 L249.4,202.3 L255.4,205.8 L259.6,202.5 L263.8,201.1 L267.4,206.4 L271.7,205.6 L276.6,205.4 L280.2,205.8 L284.4,204.5 L288.6,204.7 L292.5,205.8 L298.0,205.6 L305.0,189.8 L309.0,203.3" fill="none" stroke="#e2405a" stroke-width="0.9" stroke-linejoin="miter"/>
<path d="M428.2,206.9 L432.7,206.3 L437.3,201.3 L441.1,201.7 L444.7,201.8 L449.8,199.2 L453.8,201.1 L459.7,206.6 L464.6,206.2 L469.6,206.4 L475.3,206.3 L479.5,203.7 L483.1,205.1 L487.1,202.4 L491.8,204.4 L495.6,202.0 L499.8,202.6 L505.2,203.5 L509.6,201.7 L514.0,203.3 L518.1,202.7 L522.9,202.2 L528.9,203.6 L532.8,197.8 L538.4,196.9 L543.9,200.3 L548.9,200.3 L553.7,201.7 L558.5,197.3 L562.3,195.5 L567.2,191.2 L573.2,195.3 L578.5,196.0 L583.2,194.3 L587.8,196.4 L593.4,200.2 L597.0,202.3 L601.0,198.3 L606.9,203.8 L612.0,204.6 L617.6,204.4 L622.4,205.5 L626.0,206.5 L630.8,206.6 L635.0,211.8 L639.6,207.7 L644.3,206.0 L648.0,210.6 L650.2,210.9 L653.8,202.0 L657.5,198.6 L661.2,193.6 L667.0,192.8" fill="none" stroke="#ee9a50" stroke-width="0.9" stroke-linejoin="miter"/>
<path d="M428.3,205.5 L432.2,202.9 L437.5,200.0 L442.1,201.1 L446.8,204.6 L452.0,199.8 L455.6,203.6 L460.3,202.7 L464.9,202.5 L469.0,206.8 L473.0,206.4 L476.5,203.1 L481.3,203.1 L485.9,205.0 L490.2,201.7 L494.0,203.5 L498.4,203.0 L503.6,204.3 L509.2,204.3 L514.6,200.4 L518.1,203.5 L522.4,201.3 L527.2,201.4 L532.7,200.2 L537.6,201.5 L543.1,196.9 L548.3,199.1 L552.0,200.3 L558.0,194.4 L560.0,196.9 L562.9,191.3 L567.9,193.4 L572.0,192.7 L577.8,193.4 L583.8,194.4 L588.1,197.2 L592.9,200.0 L596.5,200.1 L601.9,204.8 L607.0,206.6 L611.1,201.2 L616.7,206.2 L621.6,205.3 L627.4,205.4 L632.9,209.7 L636.7,207.3 L640.8,202.2 L645.0,197.8 L650.0,197.2 L653.8,205.2 L659.6,202.0 L665.1,202.4 L667.0,201.2" fill="none" stroke="#4a64b0" stroke-width="0.9" stroke-linejoin="miter"/>
<path d="M427.9,209.3 L432.2,202.3 L437.0,195.0 L441.2,203.0 L445.7,198.7 L451.4,201.3 L456.4,202.5 L461.1,204.3 L466.5,204.4 L472.4,203.6 L476.8,205.5 L480.5,202.4 L484.7,201.0 L488.5,200.1 L493.1,205.0 L498.4,199.8 L503.8,203.6 L507.6,203.8 L511.5,203.8 L515.9,201.6 L521.5,200.5 L526.2,201.4 L531.1,199.7 L535.3,197.9 L540.2,202.0 L545.2,197.3 L549.5,201.8 L554.5,198.7 L559.9,194.3 L564.3,193.7 L568.9,195.5 L572.8,191.2 L576.9,192.7 L580.5,193.2 L584.2,197.0 L587.9,198.9 L593.6,200.5 L598.9,201.2 L603.9,202.4 L609.4,206.2 L613.3,206.5 L617.8,212.0 L622.7,202.5 L628.3,206.2 L633.2,205.5 L637.0,205.5 L640.6,204.6 L645.0,198.1 L649.6,198.8 L655.3,201.9 L659.2,206.1 L664.7,213.4 L667.0,220.7" fill="none" stroke="#86469a" stroke-width="0.9" stroke-linejoin="miter"/>
<path d="M428.4,203.9 L432.9,201.4 L437.2,201.0 L440.8,201.0 L445.4,201.5 L449.1,205.3 L453.1,202.0 L457.6,202.9 L462.2,206.8 L467.6,203.1 L472.2,202.4 L477.5,207.5 L481.1,205.4 L486.4,205.5 L491.8,205.1 L495.3,205.3 L499.7,202.3 L504.8,202.7 L508.6,200.5 L514.1,202.5 L520.1,202.3 L525.5,200.6 L530.6,202.4 L536.0,205.0 L541.9,197.5 L547.8,200.5 L552.1,200.1 L557.2,198.8 L560.9,193.3 L566.7,195.3 L570.4,194.9 L574.6,194.1 L579.5,194.5 L583.6,197.2 L588.1,200.3 L592.5,202.0 L597.7,206.7 L602.5,202.9 L608.1,205.3 L613.1,203.8 L618.4,206.6 L621.9,205.5 L627.1,204.2 L632.9,202.8 L636.8,203.8 L642.2,205.5 L647.7,207.3 L651.4,205.7 L656.4,201.6 L660.7,202.7 L665.1,203.5 L667.0,203.0" fill="none" stroke="#e2405a" stroke-width="0.9" stroke-linejoin="miter"/>
<path d="M783.6,201.4 L787.2,202.0 L792.1,201.7 L796.4,202.7 L800.4,199.6 L805.6,200.4 L810.9,198.9 L815.0,201.7 L820.2,199.4 L824.3,206.9 L830.0,207.9 L834.5,202.4 L839.2,203.5 L843.1,200.9 L847.7,205.1 L851.9,202.1 L857.4,200.0 L861.2,202.0 L866.1,199.8 L870.6,202.4 L876.4,202.0 L881.5,201.8 L886.4,201.1 L890.3,203.1 L894.0,204.0 L899.0,199.2 L904.8,197.8 L908.6,200.0 L913.1,199.1 L917.5,196.8 L921.1,196.6 L926.1,193.9 L930.8,200.3 L935.5,198.3 L941.1,196.5 L946.1,198.1 L950.2,199.3 L956.1,205.7 L962.0,206.1 L967.2,202.5 L971.0,206.9 L976.1,204.7 L979.6,201.7 L983.8,200.7 L988.4,205.5 L993.0,199.2 L998.5,198.7 L1003.4,198.0 L1008.5,201.9 L1013.1,206.7 L1018.5,206.4 L1022.0,192.7" fill="none" stroke="#ee9a50" stroke-width="0.9" stroke-linejoin="miter"/>
<path d="M783.4,202.0 L787.3,200.1 L792.1,200.4 L797.1,201.5 L803.0,199.7 L808.0,196.7 L812.1,199.3 L816.0,199.5 L820.9,204.6 L826.2,204.3 L832.2,206.3 L837.0,199.9 L841.7,201.1 L845.2,202.9 L849.8,200.7 L855.5,201.9 L859.1,203.2 L863.9,201.3 L869.8,203.2 L875.7,198.3 L879.3,199.5 L883.5,200.8 L887.5,198.6 L893.5,199.3 L899.0,201.8 L903.1,199.1 L907.6,201.3 L912.8,197.6 L916.3,197.1 L920.3,199.0 L925.7,198.2 L930.0,201.1 L934.1,196.5 L939.9,199.9 L945.2,201.4 L950.8,202.3 L956.3,204.8 L961.1,206.4 L965.0,206.1 L970.3,202.7 L975.1,203.7 L980.5,204.2 L985.6,207.5 L991.1,204.4 L994.8,199.7 L998.7,197.4 L1004.4,198.6 L1009.6,202.1 L1015.3,205.3 L1018.9,207.1 L1022.0,204.2" fill="none" stroke="#4a64b0" stroke-width="0.9" stroke-linejoin="miter"/>
<path d="M783.2,201.2 L788.3,201.3 L793.4,197.3 L799.1,199.4 L803.3,200.3 L807.2,199.2 L812.0,199.3 L817.7,203.5 L821.5,203.8 L825.5,204.5 L829.2,209.8 L835.2,200.7 L840.6,199.6 L844.3,200.4 L850.0,200.5 L854.6,200.5 L858.1,201.6 L861.8,200.3 L865.9,200.6 L869.5,200.9 L873.4,199.0 L877.1,199.4 L880.9,198.5 L884.7,199.3 L889.2,202.2 L894.8,203.6 L900.3,201.2 L905.1,201.3 L908.7,200.2 L914.6,199.7 L918.3,195.7 L921.8,199.5 L927.2,199.2 L932.2,202.2 L937.6,199.9 L941.8,200.0 L947.5,200.3 L953.2,202.0 L956.8,199.6 L962.7,204.6 L968.2,204.6 L973.8,204.1 L978.5,202.0 L985.0,211.3 L989.7,206.1 L995.5,198.0 L999.7,200.6 L1003.6,198.0 L1008.7,187.5 L1013.3,205.0 L1017.0,210.9 L1019.0,205.2 L1022.0,202.1" fill="none" stroke="#86469a" stroke-width="0.9" stroke-linejoin="miter"/>
<path d="M783.7,204.4 L787.2,203.5 L791.6,201.3 L796.2,197.7 L799.8,197.8 L803.4,200.2 L806.9,200.0 L811.9,194.2 L815.4,199.9 L821.3,205.7 L826.4,207.4 L831.7,205.2 L835.3,205.4 L840.1,201.8 L844.1,201.4 L849.9,204.0 L854.3,204.1 L858.3,201.1 L862.8,199.6 L867.1,198.0 L871.0,196.9 L876.4,201.5 L880.5,203.7 L886.3,202.3 L891.6,204.6 L897.3,200.0 L902.6,199.8 L908.3,200.2 L914.2,198.2 L917.7,197.2 L921.9,194.2 L927.6,195.1 L932.5,197.6 L938.3,197.9 L942.9,199.5 L947.3,199.3 L952.9,201.2 L957.0,203.0 L961.6,205.7 L965.0,210.2 L967.1,205.3 L971.6,202.7 L976.7,204.2 L980.6,203.8 L984.6,204.1 L990.6,200.3 L994.6,199.9 L998.5,200.1 L1002.0,201.3 L1005.7,198.4 L1008.7,196.3 L1010.2,197.6 L1015.3,205.3 L1021.0,203.3 L1022.0,205.0" fill="none" stroke="#e2405a" stroke-width="0.9" stroke-linejoin="miter"/>
</g>
</svg>
</body></html>
